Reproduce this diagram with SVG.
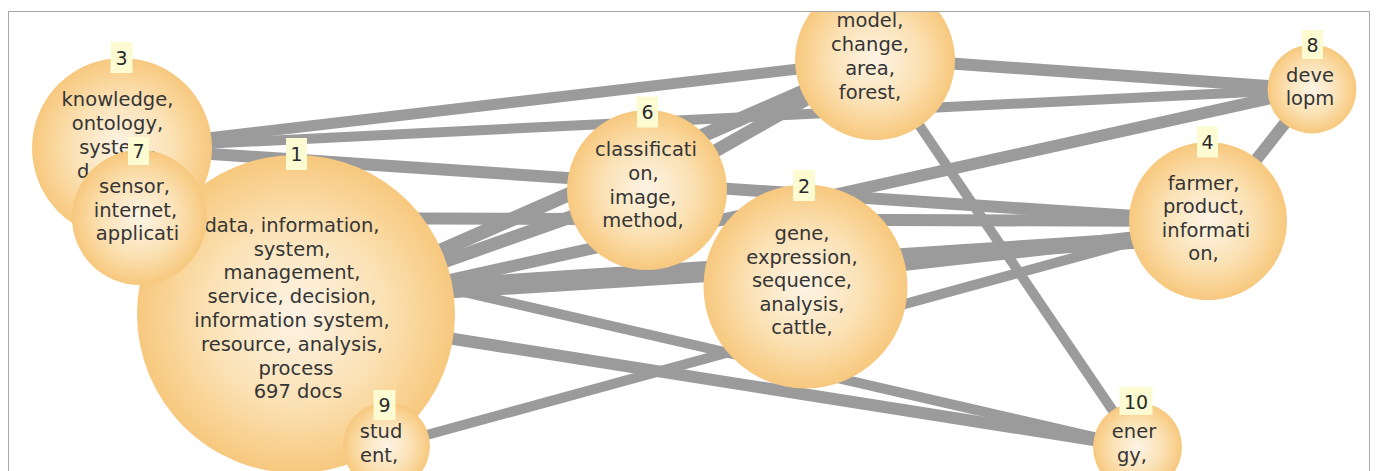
<svg xmlns="http://www.w3.org/2000/svg" width="1377" height="471" viewBox="0 0 1377 471">
  <style>
    .edge { stroke: #9b9b9b; fill: none; stroke-linecap: butt; }
    .node { fill: url(#bubble); }
    .txt { font-family: "DejaVu Sans", Verdana, sans-serif; font-size: 19.5px; fill: #353535; text-anchor: middle; }
    .tag { fill: #fcfbd2; }
    .num { font-family: "DejaVu Sans", Verdana, sans-serif; font-size: 19px; fill: #2a2a2a; text-anchor: middle; }
  </style>
  <defs>
    <radialGradient id="bubble" cx="50%" cy="50%" r="50%">
      <stop offset="0" stop-color="#fdf4e6"/>
      <stop offset="0.55" stop-color="#fbe2b6"/>
      <stop offset="0.85" stop-color="#f9d190"/>
      <stop offset="1" stop-color="#f7c87e"/>
    </radialGradient>
    <clipPath id="frame">
      <rect x="9" y="12" width="1360" height="459"/>
    </clipPath>
  </defs>
  <rect x="0" y="0" width="1377" height="471" fill="#ffffff"/>
  <rect x="8.5" y="11.5" width="1361" height="470" fill="#ffffff" stroke="#a8a8a8" stroke-width="1"/>

  <g clip-path="url(#frame)">
    <!-- links between topic bubbles -->
    <g id="connectors">
      <line class="edge" x1="122" y1="148" x2="875" y2="60" stroke-width="11"/>
      <line class="edge" x1="122" y1="148" x2="1312" y2="89" stroke-width="10"/>
      <line class="edge" x1="122" y1="148" x2="1208" y2="221" stroke-width="12"/>
      <line class="edge" x1="139.5" y1="217.5" x2="1208" y2="221" stroke-width="12"/>
      <line class="edge" x1="139.5" y1="217.5" x2="1137.5" y2="447" stroke-width="10"/>
      <line class="edge" x1="296" y1="314" x2="875" y2="60" stroke-width="14"/>
      <line class="edge" x1="296" y1="314" x2="647" y2="190" stroke-width="13"/>
      <line class="edge" x1="647" y1="190" x2="875" y2="60" stroke-width="13"/>
      <line class="edge" x1="296" y1="314" x2="1312" y2="89" stroke-width="12"/>
      <line class="edge" x1="296" y1="300" x2="805" y2="268" stroke-width="16"/>
      <line class="edge" x1="296" y1="296" x2="1208" y2="236" stroke-width="16"/>
      <line class="edge" x1="805" y1="275" x2="1208" y2="230" stroke-width="14"/>
      <line class="edge" x1="296" y1="314" x2="1137.5" y2="447" stroke-width="12"/>
      <line class="edge" x1="386.5" y1="446" x2="1208" y2="221" stroke-width="10"/>
      <line class="edge" x1="875" y1="58" x2="1312" y2="89" stroke-width="12"/>
      <line class="edge" x1="875" y1="60" x2="1137.5" y2="447" stroke-width="10"/>
      <line class="edge" x1="1208" y1="221" x2="1312" y2="89" stroke-width="12"/>
    </g>

    <g id="node3">
      <circle class="node" cx="122" cy="148" r="90"/>
      <text class="txt" x="117.5" y="106">knowledge,</text>
      <text class="txt" x="117.5" y="130">ontology,</text>
      <text class="txt" x="117.5" y="154">system,</text>
      <text class="txt" x="77" y="178" style="text-anchor:start">d</text>
      <rect class="tag" x="110.5" y="42" width="22" height="31"/>
      <text class="num" x="121.5" y="64.5">3</text>
    </g>

    <g id="node1">
      <circle class="node" cx="296" cy="314" r="159"/>
      <text class="txt" x="292" y="231.7">data, information,</text>
      <text class="txt" x="292" y="255.5">system,</text>
      <text class="txt" x="292" y="279.3">management,</text>
      <text class="txt" x="292" y="303.1">service, decision,</text>
      <text class="txt" x="292" y="326.9">information system,</text>
      <text class="txt" x="292" y="350.7">resource, analysis,</text>
      <text class="txt" x="296" y="374.5">process</text>
      <text class="txt" x="298" y="398.3">697 docs</text>
      <rect class="tag" x="286" y="138" width="21" height="32"/>
      <text class="num" x="296.5" y="160.5">1</text>
    </g>

    <g id="node7">
      <circle class="node" cx="139.5" cy="217.5" r="67.5"/>
      <text class="txt" x="134.5" y="193.3">sensor,</text>
      <text class="txt" x="135.5" y="216.7">internet,</text>
      <text class="txt" x="137.5" y="240">applicati</text>
      <rect class="tag" x="128" y="137" width="21" height="28"/>
      <text class="num" x="138.5" y="158">7</text>
    </g>

    <g id="node9">
      <circle class="node" cx="386.5" cy="446" r="43.5"/>
      <text class="txt" x="381" y="438">stud</text>
      <text class="txt" x="379" y="461.7">ent,</text>
      <rect class="tag" x="373.5" y="390" width="22" height="30"/>
      <text class="num" x="384.5" y="412">9</text>
    </g>

    <g id="node6">
      <circle class="node" cx="647" cy="190" r="80"/>
      <text class="txt" x="646" y="156">classificati</text>
      <text class="txt" x="643.5" y="180">on,</text>
      <text class="txt" x="643" y="203.5">image,</text>
      <text class="txt" x="643" y="227.3">method,</text>
      <rect class="tag" x="637" y="96.5" width="21" height="31"/>
      <text class="num" x="647.5" y="119">6</text>
    </g>

    <g id="node5">
      <circle class="node" cx="875" cy="60" r="80"/>
      <text class="txt" x="870" y="27">model,</text>
      <text class="txt" x="870" y="51">change,</text>
      <text class="txt" x="870" y="75">area,</text>
      <text class="txt" x="870" y="99">forest,</text>
    </g>

    <g id="node2">
      <circle class="node" cx="805.5" cy="286.5" r="102"/>
      <text class="txt" x="802" y="240">gene,</text>
      <text class="txt" x="802" y="263.5">expression,</text>
      <text class="txt" x="802" y="287">sequence,</text>
      <text class="txt" x="802" y="310.5">analysis,</text>
      <text class="txt" x="802" y="334">cattle,</text>
      <rect class="tag" x="793" y="170" width="22" height="31"/>
      <text class="num" x="804" y="192.5">2</text>
    </g>

    <g id="node4">
      <circle class="node" cx="1208" cy="221" r="79"/>
      <text class="txt" x="1203.5" y="189.5">farmer,</text>
      <text class="txt" x="1203.5" y="213">product,</text>
      <text class="txt" x="1206" y="236.5">informati</text>
      <text class="txt" x="1203.5" y="260">on,</text>
      <rect class="tag" x="1197" y="126.5" width="21" height="31"/>
      <text class="num" x="1207.5" y="149">4</text>
    </g>

    <g id="node8">
      <circle class="node" cx="1312" cy="89" r="44.5"/>
      <text class="txt" x="1310" y="81.7">deve</text>
      <text class="txt" x="1310" y="105.3">lopm</text>
      <rect class="tag" x="1302" y="30" width="21" height="29"/>
      <text class="num" x="1312.5" y="51.5">8</text>
    </g>

    <g id="node10">
      <circle class="node" cx="1137.5" cy="447" r="44.5"/>
      <text class="txt" x="1134" y="438">ener</text>
      <text class="txt" x="1132" y="461.7">gy,</text>
      <rect class="tag" x="1119.5" y="387" width="33" height="28"/>
      <text class="num" x="1136" y="408.5">10</text>
    </g>
  </g>
</svg>
